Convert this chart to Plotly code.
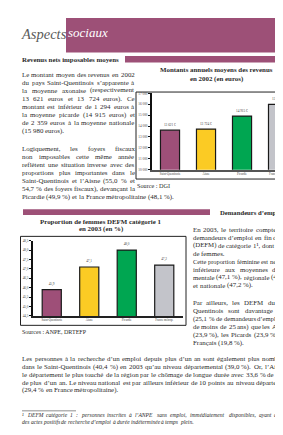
import plotly.graph_objects as go

W, H = 283, 435

# ---------------- data ----------------
categories = ["Saint-Quentinois", "Aisne", "Picardie", "France métrop."]
revenus_2002 = [13621, 13724, 14915, 15980]
revenus_labels = ["13 621 €", "13 724 €", "14 915 €", "15 980 €"]
revenus_tickvals = [10000, 11000, 12000, 13000, 14000, 15000, 16000, 17000]
revenus_ticktext = ["10 000", "11 000", "12 000", "13 000", "14 000", "15 000", "16 000", "17 000"]

femmes_defm = [45.9, 47.1, 48.0, 47.2]
femmes_labels = ["45,9", "47,1", "48,0", "47,2"]
femmes_tickvals = [44.5, 45.0, 45.5, 46.0, 46.5, 47.0, 47.5, 48.0, 48.5]
femmes_ticktext = ["44,5", "45,0", "45,5", "46,0", "46,5", "47,0", "47,5", "48,0", "48,5"]

bar_colors = ["#9E4F78", "#FBCB24", "#00A651", "#C3C4CA"]

PURPLE = "#9D5077"
TXT = "#2a2a2a"
SERIF = "Liberation Serif"

# Times (Liberation Serif) advance widths, 1/1000 em
_W = {' ': 250, '!': 333, '%': 833, '(': 333, ')': 333, ',': 250, '-': 333, '.': 250,
      ':': 278, ';': 278, "'": 180, '’': 333, '¹': 300, '€': 500,
      'A': 722, 'B': 667, 'C': 667, 'D': 722, 'E': 611, 'F': 556, 'G': 722, 'H': 722,
      'I': 333, 'J': 389, 'K': 722, 'L': 611, 'M': 889, 'N': 722, 'O': 722, 'P': 556,
      'Q': 722, 'R': 667, 'S': 556, 'T': 611, 'U': 722, 'V': 722, 'W': 944, 'X': 722,
      'Y': 722, 'Z': 611, 'É': 611,
      'a': 444, 'b': 500, 'c': 444, 'd': 500, 'e': 444, 'f': 333, 'g': 500, 'h': 500,
      'i': 278, 'j': 278, 'k': 500, 'l': 278, 'm': 778, 'n': 500, 'o': 500, 'p': 500,
      'q': 500, 'r': 333, 's': 389, 't': 278, 'u': 500, 'v': 500, 'w': 722, 'x': 500,
      'y': 500, 'z': 444, 'é': 444, 'è': 444, 'ê': 444, 'à': 444, 'â': 444, 'ç': 444,
      'î': 278, 'ô': 500, 'ù': 500, 'û': 500}


def cw(ch):
    if ch in _W:
        return _W[ch]
    return 500


def tw(s, size):
    return sum(cw(c) for c in s) * size / 1000.0


def px(x):
    return x / W


def py(y):
    return 1 - y / H


fig = go.Figure()

fig.add_trace(go.Bar(
    x=categories, y=revenus_2002, text=revenus_labels, textposition="outside",
    textfont=dict(size=3.4, family=SERIF, color="#444"),
    marker=dict(color=bar_colors, line=dict(color="#1a1a1a", width=1.2)),
    width=0.53, xaxis="x", yaxis="y", cliponaxis=False, showlegend=False,
    hoverinfo="skip",
))
fig.add_trace(go.Bar(
    x=categories, y=femmes_defm, text=femmes_labels, textposition="outside",
    textfont=dict(size=3.4, family=SERIF, color="#444"),
    marker=dict(color=bar_colors, line=dict(color="#1a1a1a", width=1.2)),
    width=0.51, xaxis="x2", yaxis="y2", cliponaxis=False, showlegend=False,
    hoverinfo="skip",
))

tick_font = dict(size=3.4, family=SERIF, color="#444")
cat_font = dict(size=3.0, family=SERIF, color="#444")
fig.update_layout(
    width=W, height=H, margin=dict(l=0, r=0, t=0, b=0),
    paper_bgcolor="white", plot_bgcolor="white",
    uniformtext=dict(minsize=3, mode="show"),
    xaxis=dict(domain=[px(144), 1.0], range=[-0.5, 3.36], showline=True,
               linecolor="#555", linewidth=1.5, ticks="", tickfont=cat_font,
               showgrid=False, zeroline=False, anchor="y"),
    yaxis=dict(domain=[py(161.5), py(84.3)], range=[10000, 17000], showline=True,
               linecolor="#111", linewidth=1.5, ticks="outside", ticklen=2,
               tickcolor="#111", tickvals=revenus_tickvals, ticktext=revenus_ticktext,
               tickfont=tick_font, showgrid=False, zeroline=False, anchor="x"),
    xaxis2=dict(domain=[px(25), px(175)], range=[-0.5, 3.5], showline=True,
                linecolor="#222", linewidth=1.5, ticks="", tickfont=cat_font,
                showgrid=False, zeroline=False, anchor="y2"),
    yaxis2=dict(domain=[py(309.5), py(233.3)], range=[44.5, 48.5], showline=True,
                linecolor="#111", linewidth=1.5, ticks="outside", ticklen=2,
                tickcolor="#111", tickvals=femmes_tickvals, ticktext=femmes_ticktext,
                tickfont=tick_font, showgrid=False, zeroline=False, anchor="x2"),
)

shapes = [
    dict(type="rect", xref="paper", yref="paper", x0=px(58), x1=1.0, y0=py(43), y1=py(8),
         fillcolor=PURPLE, line=dict(width=0), layer="below"),
    dict(type="rect", xref="paper", yref="paper", x0=px(117), x1=1.0, y0=py(53), y1=py(46.5),
         fillcolor=PURPLE, line=dict(width=0), layer="below"),
    dict(type="rect", xref="paper", yref="paper", x0=px(15), x1=px(202), y0=py(207.5), y1=py(201.5),
         fillcolor=PURPLE, line=dict(width=0), layer="below"),
    dict(type="rect", xref="paper", yref="paper", x0=px(128), x1=px(292), y0=py(171), y1=py(83),
         line=dict(color="#222", width=1), layer="below"),
    dict(type="rect", xref="paper", yref="paper", x0=px(12.5), x1=px(178), y0=py(319), y1=py(229),
         line=dict(color="#222", width=1), layer="below"),
    dict(type="line", xref="paper", yref="paper", x0=px(14), x1=px(68), y0=py(405.5), y1=py(405.5),
         line=dict(color="#444", width=0.6)),
]
fig.update_layout(shapes=shapes)

annotations = []


def add(x, y, text, size=6.9, color=TXT, anchor="left"):
    annotations.append(dict(
        x=px(x), y=py(y), xref="paper", yref="paper", text=text, showarrow=False,
        xanchor=anchor, yanchor="middle", borderpad=0, borderwidth=0,
        font=dict(size=size, color=color, family=SERIF),
    ))


def line_words(text, x0, x1, y, size=6.9, justify=True, italic=False, clip=280.0):
    words = text.split(" ")
    natural = tw(text, size)
    if natural > x1 - x0:
        size = size * (x1 - x0) / natural
    widths = [tw(w, size) for w in words]
    if justify and len(words) > 1:
        gap = (x1 - x0 - sum(widths)) / (len(words) - 1)
    else:
        gap = cw(" ") * size / 1000.0
    x = x0
    for wd_text, wd in zip(words, widths):
        if x >= clip - 1.5:
            break
        shown = wd_text
        if x + wd > clip:
            acc = 0.0
            shown = ""
            for ch in wd_text:
                acc += cw(ch) * size / 1000.0
                if x + acc > clip:
                    break
                shown += ch
        if shown:
            add(x, y, f"<i>{shown}</i>" if italic else shown, size=size)
        x += wd + gap


def paragraph(lines, x0, x1, y0, step, size=6.9, italic=False):
    for i, ln in enumerate(lines):
        last = i == len(lines) - 1
        line_words(ln, x0, x1, y0 + i * step, size=size, justify=not last, italic=italic)


# header
add(13, 24, "<i>Aspects</i>", size=14.5, color="#5a5a5a")
add(60, 23, "<i>sociaux</i>", size=13, color="white")
add(14, 50, "<b>Revenus nets imposables moyens</b>", size=6.9)

left_p1 = [
    "Le montant moyen des revenus en 2002",
    "du pays Saint-Quentinois s’apparente à",
    "la moyenne axonaise (respectivement",
    "13 621 euros et 13 724 euros). Ce",
    "montant est inférieur de 1 294 euros à",
    "la moyenne picarde (14 915 euros) et",
    "de 2 359 euros à la moyenne nationale",
    "(15 980 euros).",
]
left_p2 = [
    "Logiquement, les foyers fiscaux",
    "non imposables cette même année",
    "reflètent une situation inverse avec des",
    "proportions plus importantes dans le",
    "Saint-Quentinois et l’Aisne (55,0 % et",
    "54,7 % des foyers fiscaux), devançant la",
]
paragraph(left_p1, 14, 126.5, 65, 8.2)
for i, ln in enumerate(left_p2):
    line_words(ln, 14, 126.5, 139.8 + i * 8.2)
line_words("Picardie (49,9 %) et la France métropolitaine (48,1 %).", 14, 200,
           139.8 + 6 * 8.2, justify=False)

# chart 1 title & source
add(208, 60, "<b>Montants annuels moyens des revenus</b>", size=6.9, anchor="center")
add(208, 69.5, "<b>en 2002 (en euros)</b>", size=6.9, anchor="center")
add(129, 177.5, "Source : DGI", size=6.2)

# section 2 heading
add(211.5, 204.5, "<b>Demandeurs d’emploi</b>", size=6.7)

# chart 2 title & source
add(93, 213.5, "<b>Proportion de femmes DEFM catégorie 1</b>", size=6.9, anchor="center")
add(93, 222, "<b>en 2003 (en %)</b>", size=6.9, anchor="center")
add(14, 326, "Sources : ANPE, DRTEFP", size=6.0)

right_p1 = [
    "En 2003, le territoire compte 7 446",
    "demandeurs d’emploi en fin de mois",
    "(DEFM) de catégorie 1¹, dont 45,9 %",
    "de femmes.",
]
right_p1b = [
    "Cette proportion féminine est nettement",
    "inférieure aux moyennes départe-",
    "mentale (47,1 %), régionale (48,0 %)",
    "et nationale (47,2 %).",
]
right_p2 = [
    "Par ailleurs, les DEFM du Saint-",
    "Quentinois sont davantage jeunes",
    "(25,1 % de demandeurs d’emploi âgés",
    "de moins de 25 ans) que les Axonais",
    "(23,9 %), les Picards (23,9 %) et les",
    "Français (19,8 %).",
]
paragraph(right_p1, 185, 287, 222, 8.1)
paragraph(right_p1b, 185, 287, 222 + 4 * 8.1, 8.1)
paragraph(right_p2, 185, 287, 296, 8.1)

bottom_p = [
    "Les personnes à la recherche d’un emploi depuis plus d’un an sont également plus nombreuses",
    "dans le Saint-Quentinois (40,4 %) en 2003 qu’au niveau départemental (39,0 %). Or, l’Aisne est",
    "le département le plus touché de la région par le chômage de longue durée avec 33,6 % de DEFM",
    "de plus d’un an. Le niveau national est par ailleurs inférieur de 10 points au niveau départemental",
    "(29,4 % en France métropolitaine).",
]
paragraph(bottom_p, 14, 287, 353, 7.8)

foot = [
    "¹ DEFM catégorie 1 : personnes inscrites à l’ANPE sans emploi, immédiatement disponibles, ayant accompli",
    "des actes positifs de recherche d’emploi à durée indéterminée à temps plein.",
]
paragraph(foot, 14, 287, 410, 7, size=5.6, italic=True)

add(10, 432, "<i>6</i>", size=6.5, color=PURPLE)
add(27, 432, "<i>Saint-Quentinois</i>", size=6.5, color=PURPLE)

fig.update_layout(annotations=annotations)

fig.write_html("out.html")
